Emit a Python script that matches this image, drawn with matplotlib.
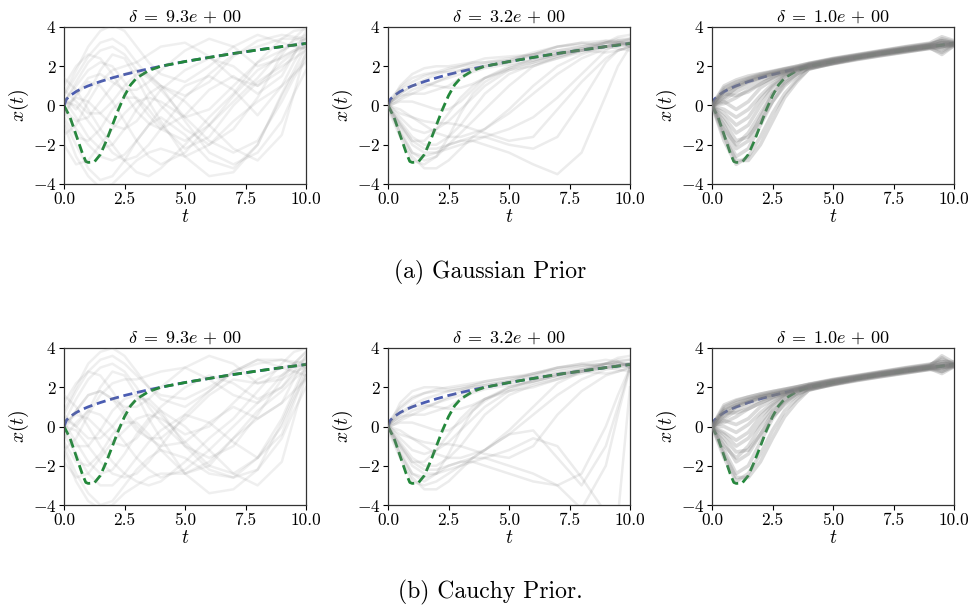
import numpy as np
import matplotlib
matplotlib.use("Agg")
import matplotlib.pyplot as plt

plt.rcParams['font.family'] = 'serif'
plt.rcParams['font.serif'] = ['cmr10']
plt.rcParams['mathtext.fontset'] = 'cm'
plt.rcParams['axes.formatter.use_mathtext'] = True
plt.rcParams['axes.unicode_minus'] = True

# time grid of sample paths
T = [0, 0.5, 1, 1.5, 2, 2.5, 3, 3.5, 4, 5, 6, 7, 8, 9, 9.5, 10]

# true solution (blue) and data-generating alternative (green)
t_true = [0, 0.1, 0.25, 0.5, 0.75, 1, 1.5, 2, 2.5, 3, 3.5, 4, 5, 6, 7, 8, 9, 10]
x_blue = [0, 0.32, 0.5, 0.71, 0.87, 1.0, 1.22, 1.41, 1.58, 1.73, 1.87, 2.0, 2.24, 2.45, 2.65, 2.83, 3.0, 3.16]
t_green = [0, 0.25, 0.5, 0.75, 0.9, 1.0, 1.25, 1.5, 1.75, 2.0, 2.25, 2.5, 2.75, 3.0, 3.5, 4.0, 5, 6, 7, 8, 9, 10]
x_green = [0, -0.6, -1.5, -2.4, -2.85, -2.9, -2.88, -2.5, -1.8, -1.0, -0.2, 0.5, 1.05, 1.4, 1.78, 2.0, 2.24, 2.45, 2.65, 2.83, 3.0, 3.16]

titles = [r'$\delta\;=\;9.3e\,+\,00$', r'$\delta\;=\;3.2e\,+\,00$', r'$\delta\;=\;1.0e\,+\,00$']
captions = ['(a) Gaussian Prior', '(b) Cauchy Prior.']

gauss_d93 = [
    [0.2, 1.0, 1.8, 2.2, 2.0, 1.2, 0.3, -0.5, -1.2, -1.8, -1.0, 0.5, 1.8, 2.5, 2.8, 3.0],
    [-0.3, -1.2, -2.0, -2.6, -2.8, -2.5, -1.8, -1.0, -0.2, 1.0, 1.5, 0.8, -0.5, 1.0, 2.2, 3.2],
    [0.5, 1.5, 2.5, 3.2, 3.4, 3.0, 2.2, 1.5, 1.0, 0.5, 1.2, 2.5, 3.3, 3.6, 3.5, 3.4],
    [-0.8, -2.0, -3.2, -3.8, -3.6, -2.8, -1.8, -1.0, -0.6, -1.5, -2.8, -3.2, -2.0, 0.5, 1.6, 2.6],
    [0.0, 0.4, 0.2, -0.4, -1.0, -1.2, -0.8, 0.0, 0.8, 1.8, 2.4, 2.0, 1.0, 1.8, 2.6, 3.5],
    [1.0, 2.0, 2.6, 2.4, 1.6, 0.6, -0.3, -0.9, -1.2, -0.5, 0.8, 1.5, 0.6, 1.5, 2.6, 3.8],
    [-1.5, -1.0, 0.2, 1.2, 1.8, 2.0, 2.2, 2.6, 3.0, 3.2, 2.5, 1.4, 1.0, 2.2, 2.7, 3.0],
    [0.3, -0.6, -1.6, -2.2, -2.0, -1.2, -0.2, 0.6, 1.0, 0.2, -1.0, -2.2, -2.8, -1.5, 0.6, 2.8],
    [-0.5, 0.5, 1.2, 1.0, 0.2, -0.8, -1.8, -2.6, -3.0, -2.4, -1.0, 0.2, 1.4, 2.8, 3.3, 3.6],
    [1.4, 0.8, -0.2, -1.2, -2.0, -2.8, -3.4, -3.6, -3.2, -2.0, -0.6, 0.6, 2.2, 3.4, 3.8, 3.9],
    [-0.2, -0.8, -0.6, 0.2, 1.0, 1.6, 1.8, 1.4, 0.8, -0.6, -1.8, -2.4, -1.8, 0.2, 1.4, 2.4],
    [0.6, 1.8, 3.0, 3.8, 4.1, 3.8, 3.0, 2.2, 1.6, 1.2, 2.0, 3.0, 3.6, 3.2, 3.0, 2.9],
    [-1.0, -2.6, -3.6, -4.2, -4.0, -3.4, -2.8, -2.4, -2.2, -2.6, -2.0, -0.8, 0.2, 1.0, 1.6, 2.2],
    [0.2, 0.0, -0.8, -1.6, -2.4, -2.8, -2.6, -2.0, -1.2, 0.4, 1.6, 2.6, 3.0, 3.4, 3.4, 3.3],
    [-0.4, 0.6, 1.4, 1.6, 1.2, 0.8, 0.8, 1.2, 1.8, 2.8, 3.4, 3.0, 2.0, 2.4, 2.8, 3.1],
    [0.8, 0.2, -0.4, -0.4, 0.2, 1.0, 1.6, 1.6, 1.0, -0.8, -2.4, -3.0, -2.4, -0.8, 0.6, 1.8],
    [-0.6, -1.6, -1.8, -1.2, -0.2, 0.4, 0.4, -0.2, -1.0, -2.2, -1.6, 0.0, 1.2, 2.0, 2.4, 2.8],
    [0.1, 1.2, 2.2, 2.8, 3.0, 2.6, 1.8, 0.8, 0.0, -1.2, -2.0, -1.2, 0.4, 2.6, 3.4, 4.0],
    [-2.0, -3.0, -2.8, -2.0, -1.2, -0.4, 0.2, 0.4, 0.2, -0.6, -0.2, 1.0, 2.2, 2.8, 3.1, 3.4],
    [0.4, -0.2, 0.6, 1.8, 2.6, 2.4, 1.4, 0.2, -0.8, -2.6, -3.6, -3.4, -2.0, 0.6, 1.8, 3.0],
]

gauss_d32 = [
    [0.0, 0.8, 1.2, 1.5, 1.7, 1.9, 2.0, 2.1, 2.2, 2.4, 2.6, 2.8, 3.0, 3.2, 3.3, 3.3],
    [0.1, 0.6, 1.0, 1.3, 1.6, 1.8, 2.0, 2.2, 2.4, 2.5, 2.6, 2.8, 3.0, 3.3, 3.3, 3.1],
    [-0.1, 1.0, 1.6, 1.9, 2.0, 2.0, 2.1, 2.2, 2.2, 2.3, 2.6, 3.0, 3.2, 3.3, 3.2, 3.0],
    [0.0, 0.4, 0.8, 1.0, 1.2, 1.4, 1.6, 1.8, 2.0, 2.2, 2.5, 2.7, 2.9, 3.0, 3.1, 3.2],
    [0.0, -1.2, -2.4, -2.8, -2.6, -1.6, -0.4, 0.6, 1.2, 1.9, 2.2, 2.6, 2.9, 3.1, 3.2, 3.2],
    [-0.2, -1.6, -2.8, -3.0, -2.6, -2.0, -1.4, -0.8, -0.2, 1.0, 2.0, 2.5, 2.8, 3.2, 3.4, 3.4],
    [0.0, -0.8, -1.6, -2.0, -2.0, -1.6, -1.0, -0.2, 0.6, 1.6, 2.1, 2.4, 2.7, 3.0, 3.1, 3.2],
    [0.1, -0.6, -1.2, -1.4, -1.2, -0.8, -0.2, 0.4, 1.0, 1.8, 2.2, 2.5, 2.8, 3.0, 3.1, 3.2],
    [0.0, -1.0, -2.0, -2.4, -2.4, -2.2, -2.0, -1.8, -1.6, -1.2, -0.6, 0.4, 1.6, 2.8, 3.2, 3.4],
    [-0.1, -1.4, -2.4, -2.6, -2.4, -2.0, -1.8, -1.8, -2.0, -2.4, -3.0, -3.5, -2.4, 0.5, 2.0, 3.0],
    [0.0, 0.2, 0.2, 0.0, -0.2, -0.2, 0.2, 0.8, 1.4, 2.0, 2.3, 2.6, 2.9, 3.2, 3.5, 3.6],
    [0.0, -0.4, -0.6, -0.8, -0.9, -0.9, -1.0, -1.2, -1.4, -1.8, -1.6, -0.2, 1.2, 2.4, 2.8, 3.0],
    [0.2, 0.9, 1.4, 1.6, 1.7, 1.7, 1.8, 1.9, 2.0, 2.2, 2.6, 3.0, 3.2, 3.0, 2.9, 2.8],
    [0.0, -1.4, -2.6, -3.2, -3.2, -2.8, -2.2, -1.6, -1.2, -0.4, 0.6, 1.6, 2.4, 2.9, 3.0, 3.1],
    [0.0, -0.2, -0.6, -1.0, -1.4, -1.6, -1.6, -1.4, -1.2, -0.2, 1.0, 2.0, 2.6, 3.0, 3.2, 3.3],
    [0.1, 0.5, 0.6, 0.6, 0.8, 1.0, 1.4, 1.7, 1.9, 2.1, 2.3, 2.6, 2.8, 3.0, 3.3, 3.4],
    [0.0, -0.9, -1.8, -2.2, -2.2, -2.0, -1.8, -1.6, -1.6, -2.0, -2.2, -1.6, 0.2, 2.2, 2.8, 3.0],
    [-0.1, 0.3, 0.6, 0.9, 1.2, 1.5, 1.8, 2.0, 2.1, 2.3, 2.7, 3.0, 3.1, 3.2, 3.2, 3.1],
    [0.0, -1.0, -1.8, -1.8, -1.2, -0.4, 0.4, 1.0, 1.4, 1.8, 2.0, 2.4, 2.8, 3.2, 3.1, 3.0],
    [0.0, 0.6, 1.0, 1.1, 1.0, 0.9, 0.9, 1.1, 1.4, 1.9, 2.4, 2.7, 2.8, 2.7, 2.8, 3.0],
]

gauss_d10 = [
    [0.0, 0.9, 1.2, 1.4, 1.6, 1.7, 1.85, 1.95, 2.12, 2.38, 2.58, 2.78, 2.98, 3.15, 3.3, 3.2],
    [0.1, 0.7, 1.0, 1.25, 1.45, 1.6, 1.75, 1.85, 1.95, 2.15, 2.36, 2.55, 2.74, 2.9, 3.0, 3.05],
    [-0.1, 0.5, 0.9, 1.2, 1.4, 1.58, 1.72, 1.9, 2.05, 2.3, 2.5, 2.7, 2.88, 3.08, 3.4, 3.25],
    [0.0, 0.3, 0.7, 1.0, 1.3, 1.5, 1.68, 1.8, 1.9, 2.12, 2.34, 2.54, 2.72, 2.92, 2.7, 3.05],
    [0.0, 1.0, 1.3, 1.5, 1.62, 1.75, 1.88, 2.0, 2.15, 2.4, 2.6, 2.8, 3.0, 3.18, 3.5, 3.3],
    [0.0, 0.1, 0.4, 0.8, 1.1, 1.4, 1.65, 1.82, 2.0, 2.25, 2.46, 2.66, 2.84, 3.0, 3.1, 3.15],
    [0.0, -1.4, -2.6, -2.2, -1.0, 0.2, 1.1, 1.6, 1.88, 2.18, 2.42, 2.62, 2.8, 2.98, 2.9, 3.1],
    [0.0, -1.0, -2.2, -1.8, -0.6, 0.6, 1.3, 1.7, 2.08, 2.32, 2.52, 2.72, 2.9, 3.06, 3.2, 3.15],
    [0.0, -0.6, -1.4, -1.0, 0.0, 0.9, 1.45, 1.78, 1.96, 2.2, 2.44, 2.64, 2.82, 3.0, 3.0, 3.12],
    [0.0, -0.2, -0.6, -0.2, 0.5, 1.1, 1.55, 1.86, 2.1, 2.35, 2.55, 2.74, 2.92, 3.1, 3.3, 3.2],
    [0.0, -1.8, -3.0, -2.6, -1.6, -0.4, 0.6, 1.3, 1.85, 2.15, 2.4, 2.6, 2.78, 2.95, 2.6, 3.05],
    [0.0, 0.2, -0.2, 0.2, 0.9, 1.3, 1.6, 1.85, 2.02, 2.26, 2.47, 2.68, 2.86, 3.04, 3.2, 3.15],
    [0.0, -1.2, -2.0, -1.4, -0.4, 0.6, 1.2, 1.6, 1.92, 2.2, 2.43, 2.63, 2.82, 2.98, 3.1, 3.1],
    [0.0, 0.6, 0.5, 0.7, 1.1, 1.45, 1.7, 1.9, 2.06, 2.3, 2.5, 2.7, 2.9, 3.06, 3.0, 3.18],
    [0.0, -0.4, -1.0, -0.6, 0.3, 1.0, 1.5, 1.8, 1.98, 2.22, 2.45, 2.65, 2.83, 3.0, 3.2, 3.2],
    [0.0, 0.8, 1.1, 1.35, 1.55, 1.72, 1.86, 2.0, 2.14, 2.36, 2.56, 2.76, 2.95, 3.12, 3.3, 3.12],
    [0.0, -1.6, -2.8, -2.8, -2.0, -0.8, 0.4, 1.2, 1.86, 2.14, 2.38, 2.58, 2.76, 2.94, 3.1, 3.08],
    [0.0, 0.4, 0.9, 1.2, 1.45, 1.62, 1.76, 1.9, 2.04, 2.28, 2.48, 2.68, 2.86, 3.02, 2.8, 3.1],
    [0.0, -0.8, -1.8, -1.6, -0.8, 0.2, 1.0, 1.5, 1.94, 2.18, 2.42, 2.62, 2.8, 2.97, 3.0, 3.1],
    [0.0, 0.7, 1.05, 1.3, 1.5, 1.65, 1.8, 1.95, 2.08, 2.32, 2.52, 2.72, 2.9, 3.08, 3.1, 3.14],
]

cauchy_d93 = [
    [0.0, 0.8, 1.6, 1.8, 1.4, 0.6, -0.2, -0.6, -0.6, 0.4, 1.6, 2.4, 2.2, 2.6, 3.0, 3.2],
    [-0.4, -1.4, -2.4, -3.0, -3.0, -2.4, -1.6, -0.8, -0.2, 0.6, 0.2, -0.8, -1.6, -0.4, 1.2, 2.8],
    [0.6, 1.8, 2.8, 3.4, 3.6, 3.2, 2.6, 2.0, 1.6, 1.4, 2.0, 2.8, 3.4, 3.4, 3.2, 3.0],
    [-1.0, -2.4, -3.4, -4.0, -3.8, -3.0, -2.2, -1.6, -1.2, -1.6, -2.4, -2.6, -1.6, 0.4, 1.8, 3.2],
    [0.2, 0.6, 0.4, -0.2, -0.8, -1.0, -0.6, 0.2, 1.0, 2.0, 2.6, 2.2, 1.4, 2.0, 2.8, 3.6],
    [1.2, 2.2, 2.8, 2.6, 1.8, 0.8, 0.0, -0.6, -1.0, -0.8, 0.2, 1.0, 0.4, 1.2, 2.4, 3.6],
    [-1.2, -0.6, 0.6, 1.6, 2.2, 2.4, 2.4, 2.6, 2.8, 3.0, 2.4, 1.6, 1.2, 2.0, 2.6, 3.2],
    [0.2, -0.8, -1.8, -2.4, -2.2, -1.4, -0.4, 0.4, 0.8, 0.0, -1.2, -2.4, -3.0, -1.8, 0.4, 2.6],
    [-0.6, 0.2, 0.8, 0.6, 0.0, -0.8, -1.6, -2.2, -2.6, -2.2, -1.2, 0.0, 1.2, 2.6, 3.2, 3.8],
    [1.6, 1.0, 0.0, -1.0, -1.8, -2.4, -2.8, -3.0, -2.8, -1.8, -0.6, 0.4, 1.8, 3.2, 3.8, 4.0],
    [-0.2, -1.0, -1.0, -0.2, 0.8, 1.4, 1.6, 1.2, 0.6, -0.8, -2.0, -2.4, -1.6, 0.0, 1.4, 2.6],
    [0.8, 2.0, 3.2, 3.8, 4.0, 3.6, 2.8, 2.0, 1.4, 1.0, 1.8, 2.8, 3.4, 3.0, 2.8, 2.6],
    [-1.2, -2.8, -3.8, -4.2, -4.0, -3.4, -3.0, -2.6, -2.4, -2.4, -1.8, -0.6, 0.4, 1.2, 1.8, 2.4],
    [0.0, -0.2, -1.0, -1.8, -2.4, -2.6, -2.4, -1.8, -1.0, 0.6, 1.8, 2.8, 3.2, 3.4, 3.3, 3.2],
    [-0.2, 0.8, 1.6, 1.8, 1.4, 1.0, 1.0, 1.4, 2.0, 3.0, 3.6, 3.2, 2.2, 2.4, 2.8, 3.0],
    [0.6, 0.0, -0.6, -0.6, 0.0, 0.8, 1.4, 1.4, 0.8, -1.0, -2.2, -2.6, -2.2, -0.6, 0.8, 2.0],
    [-0.8, -1.8, -2.0, -1.4, -0.4, 0.2, 0.2, -0.4, -1.2, -2.4, -2.0, -0.6, 0.8, 1.8, 2.4, 2.9],
    [0.2, 1.4, 2.4, 3.0, 3.2, 2.8, 2.0, 1.0, 0.2, -1.0, -1.6, -1.0, 0.6, 2.4, 3.2, 3.8],
    [-1.8, -2.6, -2.4, -1.6, -0.8, -0.2, 0.4, 0.6, 0.4, -0.4, 0.0, 1.2, 2.4, 3.0, 3.2, 3.4],
    [0.4, 0.0, 0.8, 2.0, 2.8, 2.6, 1.6, 0.4, -0.6, -2.4, -3.4, -3.2, -2.2, 0.2, 1.6, 3.0],
]

cauchy_d32 = [
    [0.0, 0.9, 1.4, 1.7, 1.9, 2.0, 2.1, 2.2, 2.3, 2.5, 2.7, 2.9, 3.1, 3.2, 3.3, 3.2],
    [0.1, 0.7, 1.1, 1.4, 1.6, 1.8, 1.9, 2.1, 2.3, 2.5, 2.6, 2.8, 3.0, 3.2, 3.3, 3.1],
    [-0.1, 1.2, 1.8, 2.0, 2.0, 1.9, 2.0, 2.1, 2.2, 2.4, 2.7, 3.0, 3.2, 3.4, 3.3, 3.0],
    [0.0, 0.4, 0.8, 1.0, 1.2, 1.4, 1.6, 1.8, 2.0, 2.2, 2.5, 2.7, 2.9, 3.0, 3.1, 3.2],
    [0.0, -1.2, -2.4, -2.8, -2.4, -1.4, -0.2, 0.8, 1.3, 2.0, 2.3, 2.6, 2.9, 3.1, 3.2, 3.2],
    [-0.2, -1.6, -2.8, -3.0, -2.8, -2.4, -2.0, -1.6, -1.2, -0.2, 1.0, 2.2, 2.8, 3.2, 3.4, 3.4],
    [0.0, -0.8, -1.6, -2.0, -2.0, -1.6, -1.0, -0.2, 0.6, 1.6, 2.1, 2.4, 2.7, 3.0, 3.1, 3.2],
    [0.1, -0.6, -1.2, -1.4, -1.2, -0.8, -0.2, 0.4, 1.0, 1.8, 2.2, 2.5, 2.8, 3.0, 3.1, 3.2],
    [0.0, -1.0, -2.0, -2.4, -2.4, -2.2, -2.0, -1.8, -1.6, -1.2, -0.6, -1.0, -2.6, -4.4, -4.6, 2.0],
    [-0.1, -1.4, -2.4, -2.6, -2.4, -2.0, -1.8, -1.8, -2.0, -2.4, -2.8, -3.0, -2.4, 0.0, 1.6, 3.0],
    [0.0, 0.2, 0.2, 0.0, -0.2, -0.2, 0.2, 0.8, 1.4, 2.0, 2.3, 2.6, 2.9, 3.2, 3.5, 3.6],
    [0.0, -0.4, -0.6, -0.8, -0.9, -0.9, -1.0, -1.2, -1.4, -1.6, -1.0, 0.6, 1.8, 2.6, 2.8, 3.0],
    [0.2, 1.0, 1.5, 1.7, 1.8, 1.8, 1.9, 2.0, 2.1, 2.3, 2.6, 3.0, 3.2, 3.0, 2.9, 2.8],
    [0.0, -1.4, -2.6, -3.2, -3.2, -2.8, -2.2, -1.6, -1.2, -0.4, 0.6, 1.6, 2.4, 2.9, 3.0, 3.1],
    [0.0, -0.2, -0.6, -1.0, -1.4, -1.6, -1.6, -1.4, -1.2, -0.4, -0.2, -1.6, -3.0, -1.0, 1.0, 3.0],
    [0.1, 0.5, 0.6, 0.6, 0.8, 1.0, 1.4, 1.7, 1.9, 2.1, 2.3, 2.6, 2.8, 3.0, 3.3, 3.4],
    [0.0, -0.9, -1.8, -2.2, -2.2, -2.0, -1.8, -1.6, -1.6, -2.0, -2.4, -3.0, -4.2, -2.0, 0.6, 3.0],
    [-0.1, 0.3, 0.6, 0.9, 1.2, 1.5, 1.8, 2.0, 2.1, 2.3, 2.7, 3.0, 3.1, 3.2, 3.2, 3.1],
    [0.0, -1.0, -1.8, -1.8, -1.2, -0.4, 0.4, 1.0, 1.4, 1.8, 2.0, 2.4, 2.8, 3.2, 3.1, 3.0],
    [0.0, 0.6, 1.0, 1.1, 1.0, 0.9, 0.9, 1.1, 1.4, 1.9, 2.4, 2.7, 2.8, 2.7, 2.8, 3.0],
]

cauchy_d10 = [
    [0.0, 1.0, 1.3, 1.5, 1.65, 1.78, 1.9, 2.02, 2.14, 2.38, 2.58, 2.78, 2.98, 3.15, 3.4, 3.2],
    [0.1, 0.8, 1.1, 1.3, 1.5, 1.62, 1.74, 1.86, 1.95, 2.16, 2.36, 2.55, 2.74, 2.9, 3.0, 3.05],
    [-0.1, 0.6, 1.0, 1.25, 1.45, 1.6, 1.76, 1.92, 2.06, 2.3, 2.5, 2.7, 2.88, 3.08, 3.6, 3.25],
    [0.0, 0.4, 0.8, 1.1, 1.35, 1.52, 1.68, 1.8, 1.9, 2.12, 2.34, 2.54, 2.72, 2.92, 2.8, 3.05],
    [0.0, 1.1, 1.35, 1.5, 1.65, 1.78, 1.9, 2.02, 2.16, 2.4, 2.6, 2.8, 3.0, 3.18, 3.3, 3.3],
    [0.0, 0.2, 0.5, 0.9, 1.2, 1.45, 1.66, 1.84, 2.0, 2.25, 2.46, 2.66, 2.84, 3.0, 3.1, 3.15],
    [0.0, -1.2, -2.4, -2.0, -0.8, 0.4, 1.2, 1.65, 1.88, 2.18, 2.42, 2.62, 2.8, 2.98, 2.9, 3.1],
    [0.0, -0.8, -1.8, -1.4, -0.4, 0.7, 1.35, 1.72, 2.08, 2.32, 2.52, 2.72, 2.9, 3.06, 3.2, 3.15],
    [0.0, -0.4, -1.0, -0.6, 0.2, 1.0, 1.5, 1.8, 1.96, 2.2, 2.44, 2.64, 2.82, 3.0, 3.0, 3.12],
    [0.0, 0.0, -0.3, 0.1, 0.7, 1.2, 1.6, 1.86, 2.1, 2.35, 2.55, 2.74, 2.92, 3.1, 3.3, 3.2],
    [0.0, -1.6, -2.8, -2.4, -1.4, -0.2, 0.8, 1.4, 1.85, 2.15, 2.4, 2.6, 2.78, 2.95, 2.7, 3.05],
    [0.0, 0.3, 0.1, 0.4, 1.0, 1.35, 1.62, 1.86, 2.02, 2.26, 2.47, 2.68, 2.86, 3.04, 3.2, 3.15],
    [0.0, -1.0, -1.6, -1.0, 0.0, 0.8, 1.3, 1.65, 1.92, 2.2, 2.43, 2.63, 2.82, 2.98, 3.1, 3.1],
    [0.0, 0.7, 0.7, 0.9, 1.2, 1.5, 1.72, 1.9, 2.06, 2.3, 2.5, 2.7, 2.9, 3.06, 3.0, 3.18],
    [0.0, -0.3, -0.7, -0.3, 0.5, 1.1, 1.55, 1.82, 1.98, 2.22, 2.45, 2.65, 2.83, 3.0, 3.2, 3.2],
    [0.0, 0.9, 1.2, 1.4, 1.58, 1.72, 1.86, 2.0, 2.14, 2.36, 2.56, 2.76, 2.95, 3.12, 3.5, 3.12],
    [0.0, -1.4, -2.6, -2.6, -1.8, -0.6, 0.5, 1.25, 1.86, 2.14, 2.38, 2.58, 2.76, 2.94, 3.1, 3.08],
    [0.0, 0.5, 1.0, 1.25, 1.48, 1.64, 1.78, 1.9, 2.04, 2.28, 2.48, 2.68, 2.86, 3.02, 2.8, 3.1],
    [0.0, -0.6, -1.3, -1.2, -0.4, 0.5, 1.1, 1.55, 1.94, 2.18, 2.42, 2.62, 2.8, 2.97, 3.0, 3.1],
    [0.0, 0.8, 1.1, 1.35, 1.52, 1.66, 1.8, 1.95, 2.08, 2.32, 2.52, 2.72, 2.9, 3.08, 3.1, 3.14],
]

panels = [[gauss_d93, gauss_d32, gauss_d10], [cauchy_d93, cauchy_d32, cauchy_d10]]

W, H = 971, 607
fig = plt.figure(figsize=(W / 100, H / 100), dpi=100)

lefts = [64, 388, 712]
tops = [27, 348]
aw, ah = 242, 157
path_alpha = [0.12, 0.15, 0.28]
path_lw = [1.8, 1.8, 2.6]

BLUE = '#4a5cb2'
GREEN = '#22883a'
DASH = (0, (3.3, 1.7))

for r in range(2):
    for c in range(3):
        ax = fig.add_axes([lefts[c] / W, 1 - (tops[r] + ah) / H, aw / W, ah / H])
        ax.plot(t_true, x_blue, color=BLUE, lw=2.0, ls=DASH, zorder=1)
        ax.plot(t_green, x_green, color=GREEN, lw=2.0, ls=DASH, zorder=2)
        for path in panels[r][c]:
            ax.plot(T, path, color='#808080', alpha=path_alpha[c], lw=path_lw[c], zorder=3)
        ax.set_xlim(0, 10)
        ax.set_ylim(-4, 4)
        ax.set_xticks([0, 2.5, 5, 7.5, 10])
        ax.set_xticklabels(['0.0', '2.5', '5.0', '7.5', '10.0'])
        ax.set_yticks([-4, -2, 0, 2, 4])
        ax.set_yticklabels([r'$-4$', r'$-2$', r'$0$', r'$2$', r'$4$'])
        ax.tick_params(labelsize=12.5, length=3.5, width=0.8, pad=2)
        for s in ax.spines.values():
            s.set_linewidth(0.9)
            s.set_color('#333333')
        ax.set_title(titles[c], fontsize=13, pad=4)
        ax.set_xlabel(r'$t$', fontsize=14, labelpad=1)
        ax.set_ylabel(r'$x(t)$', fontsize=14, labelpad=1)

fig.text(490 / W, 1 - 272 / H, captions[0], ha='center', va='center', fontsize=17)
fig.text(490 / W, 1 - 592 / H, captions[1], ha='center', va='center', fontsize=17)

fig.savefig('out.png', dpi=100)
